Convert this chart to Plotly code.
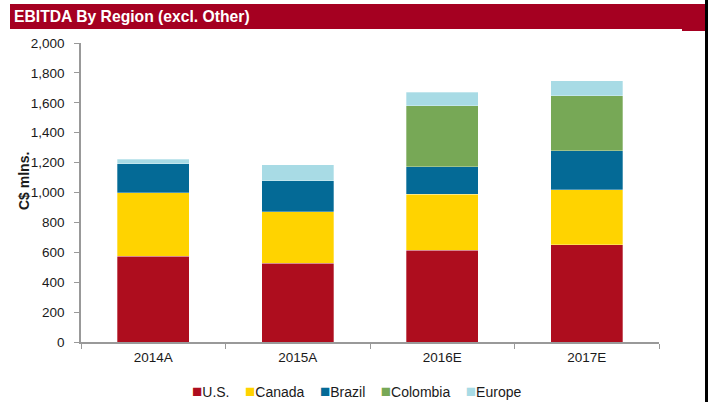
import plotly.graph_objects as go

years = ["2014A", "2015A", "2016E", "2017E"]
us = [575, 526, 613, 651]
canada = [425, 344, 375, 368]
brazil = [193, 207, 185, 261]
colombia = [0, 0, 408, 368]
europe = [31, 107, 91, 100]

series = [
    ("U.S.", us, "#AE0D1E"),
    ("Canada", canada, "#FFD300"),
    ("Brazil", brazil, "#046A96"),
    ("Colombia", colombia, "#77A856"),
    ("Europe", europe, "#A8DBE5"),
]

W, H = 720, 402
L, R, T, B = 81, 61, 43, 60
pw = W - L - R
ph = H - T - B

def px_x(p):
    return (p - L) / pw

def px_y(p):
    return (H - B - p) / ph

FONT = "Liberation Sans, Arial, sans-serif"

fig = go.Figure()
for name, vals, col in series:
    fig.add_trace(go.Bar(
        x=years, y=vals, name=name,
        marker=dict(color=col, line=dict(color="rgba(255,255,255,0.5)", width=0.6)),
    ))

legend_text = "&nbsp;&nbsp;&nbsp;&nbsp;".join(
    f'<span style="color:{col};font-size:17px">■</span>{name}' for name, _, col in series
)

fig.update_layout(
    width=W, height=H,
    margin=dict(l=L, r=R, t=T, b=B),
    barmode="stack", bargap=0.5,
    plot_bgcolor="white", paper_bgcolor="white",
    font=dict(family=FONT, size=13.5, color="#1a1a1a"),
    showlegend=False,
    title=dict(text="<b>EBITDA By Region (excl. Other)</b>", xref="container", yref="container",
               x=14 / W, xanchor="left", y=1 - 16.5 / H, yanchor="middle",
               font=dict(family=FONT, size=15.7, color="white")),
    xaxis=dict(showline=True, linecolor="#999999", linewidth=1.5, ticks="outside",
               tickcolor="#999999", ticklen=5, tickson="boundaries", showgrid=False,
               ticklabelstandoff=2, tickfont=dict(size=13.5, family=FONT)),
    yaxis=dict(range=[0, 2000], dtick=200, tickformat=",", showline=True,
               linecolor="#999999", linewidth=1.5, ticks="outside", tickcolor="#999999",
               ticklen=5, showgrid=False, zeroline=False, ticklabelstandoff=7,
               tickfont=dict(size=13.5, family=FONT)),
    shapes=[
        dict(type="rect", xref="paper", yref="paper", x0=px_x(10), x1=px_x(705),
             y0=px_y(29), y1=px_y(4), fillcolor="#A50021", line=dict(width=0), layer="below"),
        dict(type="rect", xref="paper", yref="paper", x0=px_x(682), x1=px_x(705),
             y0=px_y(31), y1=px_y(29), fillcolor="#A50021", line=dict(width=0), layer="below"),
        dict(type="rect", xref="paper", yref="paper", x0=px_x(705), x1=px_x(708),
             y0=px_y(H), y1=px_y(0), fillcolor="black", line=dict(width=0), layer="below"),
    ],
    annotations=[
        dict(text="<b>C$ mlns.</b>", xref="paper", yref="paper", x=px_x(24), y=px_y(181),
             textangle=-90, showarrow=False, font=dict(size=14, family=FONT, color="#1a1a1a"),
             xanchor="center", yanchor="middle"),
        dict(text=legend_text, xref="paper", yref="paper", x=px_x(356), y=px_y(392),
             showarrow=False, font=dict(size=14, family=FONT, color="#1a1a1a"),
             xanchor="center", yanchor="middle"),
    ],
)

fig.write_html("out.html", post_script="document.body.style.margin='0';",
               config={"displayModeBar": False})
